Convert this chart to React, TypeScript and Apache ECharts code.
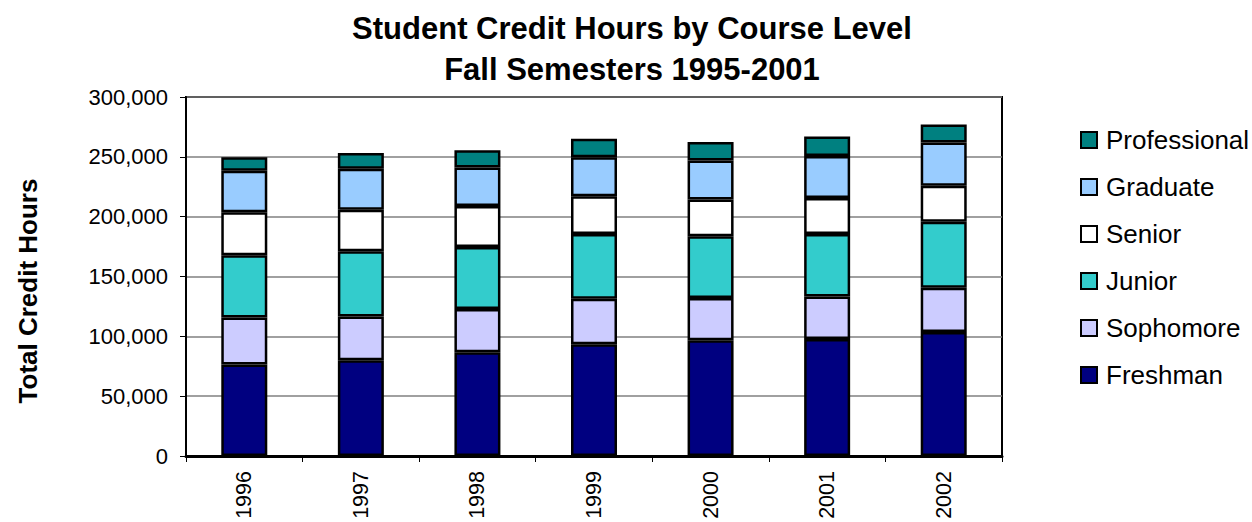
import React, { useEffect, useRef } from "react";
import * as echarts from "echarts";

const years = ["1996", "1997", "1998", "1999", "2000", "2001", "2002"];
const freshman = [76400, 80000, 86700, 93400, 96700, 97800, 103700];
const sophomore = [39300, 36500, 36200, 38100, 35400, 35400, 36800];
const junior = [52100, 54600, 51800, 54100, 51600, 52400, 55200];
const senior = [35900, 34600, 34300, 31500, 30600, 30100, 30100];
const graduate = [34600, 34300, 32100, 32600, 32600, 35100, 36200];
const professional = [11400, 13100, 14500, 15400, 15400, 16200, 15000];
const legendOrder = ["Professional", "Graduate", "Senior", "Junior", "Sophomore", "Freshman"];

const seriesDefs = [
  { name: "Freshman", data: freshman, color: "#000080" },
  { name: "Sophomore", data: sophomore, color: "#CCCCFF" },
  { name: "Junior", data: junior, color: "#33CCCC" },
  { name: "Senior", data: senior, color: "#FFFFFF" },
  { name: "Graduate", data: graduate, color: "#99CCFF" },
  { name: "Professional", data: professional, color: "#008080" },
];

const FONT = "'Liberation Sans', Arial, sans-serif";

export default function App() {
  const ref = useRef<HTMLDivElement>(null);
  useEffect(() => {
    if (!ref.current) return;
    const chart = echarts.init(ref.current, null, { renderer: "svg" });
    chart.setOption({
      animation: false,
      backgroundColor: "#ffffff",
      textStyle: { fontFamily: FONT, color: "#000" },
      title: {
        text: "Student Credit Hours by Course Level\nFall Semesters 1995-2001",
        left: 627,
        textAlign: "center",
        top: 3,
        textStyle: {
          fontFamily: FONT,
          fontSize: 31,
          fontWeight: "bold",
          color: "#000",
          lineHeight: 41,
        },
      },
      graphic: [
        {
          type: "text",
          x: 28,
          y: 291,
          rotation: Math.PI / 2,
          style: {
            text: "Total Credit Hours",
            fontFamily: FONT,
            fontSize: 26,
            fontWeight: "bold",
            fill: "#000",
            textAlign: "center",
            textVerticalAlign: "middle",
          },
        },
      ],
      legend: {
        orient: "vertical",
        left: 1080,
        top: 127,
        padding: 0,
        icon: "rect",
        itemWidth: 16,
        itemHeight: 16,
        itemGap: 21,
        data: legendOrder,
        textStyle: {
          fontFamily: FONT,
          fontSize: 26,
          color: "#000",
          padding: [0, 0, 0, 4],
          lineHeight: 26,
        },
        itemStyle: { borderColor: "#000", borderWidth: 2 },
      },
      grid: {
        left: 186,
        right: 250,
        top: 97,
        bottom: 66,
        containLabel: false,
        outerBoundsMode: "none",
        show: true,
        borderColor: "#000",
        borderWidth: 2,
        backgroundColor: "transparent",
      },
      xAxis: {
        type: "category",
        data: years,
        boundaryGap: true,
        axisLine: { show: true, lineStyle: { color: "#000", width: 3 } },
        axisTick: { show: true, length: 6, lineStyle: { color: "#000", width: 1 } },
        axisLabel: {
          rotate: 90,
          margin: 15,
          fontFamily: FONT,
          fontSize: 21.5,
          color: "#000",
        },
      },
      yAxis: {
        type: "value",
        min: 0,
        max: 300000,
        interval: 50000,
        axisLine: { show: true, lineStyle: { color: "#000", width: 2 } },
        axisTick: { show: true, length: 6, lineStyle: { color: "#000", width: 1 } },
        splitLine: { show: true, lineStyle: { color: "#808080", width: 1.5 } },
        axisLabel: {
          margin: 18,
          fontFamily: FONT,
          fontSize: 22,
          color: "#000",
          formatter: (v: number) => v.toLocaleString("en-US"),
        },
      },
      series: seriesDefs.map((s) => ({
        name: s.name,
        type: "bar",
        stack: "total",
        barWidth: 46,
        data: s.data,
        itemStyle: { color: s.color, borderColor: "#000", borderWidth: 2.5 },
        emphasis: { disabled: true },
      })),
    });
    return () => chart.dispose();
  }, []);
  return (
    <div
      ref={ref}
      style={{ position: "fixed", left: 0, top: 0, width: 1252, height: 522 }}
    />
  );
}
